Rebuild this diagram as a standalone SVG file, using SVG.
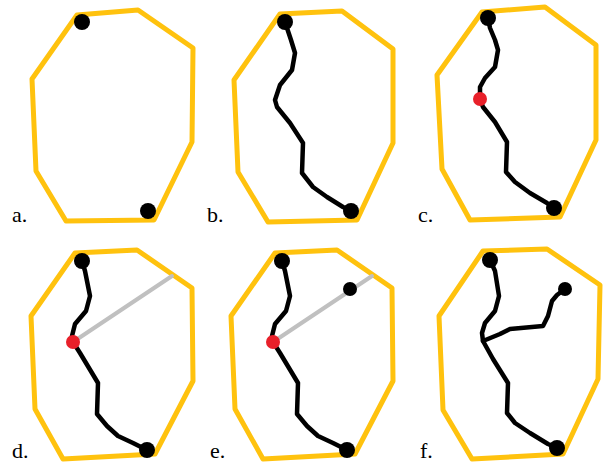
<svg xmlns="http://www.w3.org/2000/svg" width="604" height="466" viewBox="0 0 604 466">
<style>
.hull{fill:none;stroke:#FFC20E;stroke-width:5;stroke-linejoin:round;stroke-linecap:round}
.path{fill:none;stroke:#000;stroke-width:4.5;stroke-linejoin:round;stroke-linecap:round}
.ray{fill:none;stroke:#C0C0C0;stroke-width:4;stroke-linecap:round}
.dot{fill:#000}
.red{fill:#E8202A}
.lbl{font-family:"Liberation Serif",serif;font-size:22px;fill:#000}
</style>
<rect width="604" height="466" fill="#fff"/>
<g id="panel-a">
<polygon class="hull" points="77,15 138,10 193,48 192,142 154,220 66,221 36,171 32,79"/>
<circle class="dot" cx="82" cy="22" r="8"/>
<circle class="dot" cx="148" cy="211" r="8"/>
<text class="lbl" x="12" y="222">a.</text>
</g>
<g id="panel-b">
<polygon class="hull" points="280,14 342,11 393,49 393,143 357,220 268,222 238,172 234,80"/>
<g class="connectors"><polyline class="path" points="285,22 287,28 291,40 295,53 292,70 280,85 275,100 277,107 290,123 303,143 302,173 313,187 327,197 343,207 351,211"/></g>
<circle class="dot" cx="285" cy="22" r="8"/>
<circle class="dot" cx="351" cy="211" r="8"/>
<text class="lbl" x="207" y="222">b.</text>
</g>
<g id="panel-c">
<polygon class="hull" points="482,12 545,7 596,45 596,140 560,217 470,220 442,169 437,75"/>
<g class="connectors"><polyline class="path" points="488,18 490,28 495,40 498,50 495,67 485,78 480,87 480,99 483,107 495,122 507,142 506,172 515,182 530,193 547,203 554,208"/></g>
<circle class="dot" cx="488" cy="18" r="8"/>
<circle class="dot" cx="554" cy="208" r="8"/>
<circle class="red" cx="480" cy="99" r="7"/>
<text class="lbl" x="418" y="222">c.</text>
</g>
<g id="panel-d">
<polygon class="hull" points="75,253 137,250 192,288 193,381 155,454 63,459 35,409 31,316"/>
<g class="connectors">
<line class="ray" x1="73" y1="342" x2="172" y2="276"/>
<polyline class="path" points="82,261 85,271 90,296 86,311 75,324 72,336 73,342 80,353 98,383 97,414 107,426 118,436 133,443 147,450"/>
</g>
<circle class="dot" cx="82" cy="261" r="8"/>
<circle class="dot" cx="147" cy="450" r="8"/>
<circle class="red" cx="73" cy="342" r="7"/>
<text class="lbl" x="12" y="458">d.</text>
</g>
<g id="panel-e">
<polygon class="hull" points="275,253 337,250 392,288 393,381 355,454 263,459 235,409 231,316"/>
<g class="connectors">
<line class="ray" x1="273" y1="342" x2="372" y2="276"/>
<polyline class="path" points="282,261 285,271 290,296 286,311 275,324 272,336 273,342 280,353 298,383 297,414 307,426 318,436 333,443 347,450"/>
</g>
<circle class="dot" cx="282" cy="261" r="8"/>
<circle class="dot" cx="347" cy="450" r="8"/>
<circle class="dot" cx="350" cy="289" r="7"/>
<circle class="red" cx="273" cy="342" r="7"/>
<text class="lbl" x="210" y="458">e.</text>
</g>
<g id="panel-f">
<polygon class="hull" points="483,251 547,249 600,285 598,379 563,454 472,459 443,410 439,316"/>
<g class="connectors">
<polyline class="path" points="490,260 495,271 499,296 495,311 485,323 482,333 483,341 493,359 508,383 507,413 515,423 530,433 548,444 557,448"/>
<polyline class="path" points="483,341 500,334 510,329 543,326 548,316 552,301 557,295 565,289"/>
</g>
<circle class="dot" cx="490" cy="260" r="8"/>
<circle class="dot" cx="557" cy="448" r="8"/>
<circle class="dot" cx="565" cy="289" r="7"/>
<text class="lbl" x="420" y="458">f.</text>
</g>
</svg>
